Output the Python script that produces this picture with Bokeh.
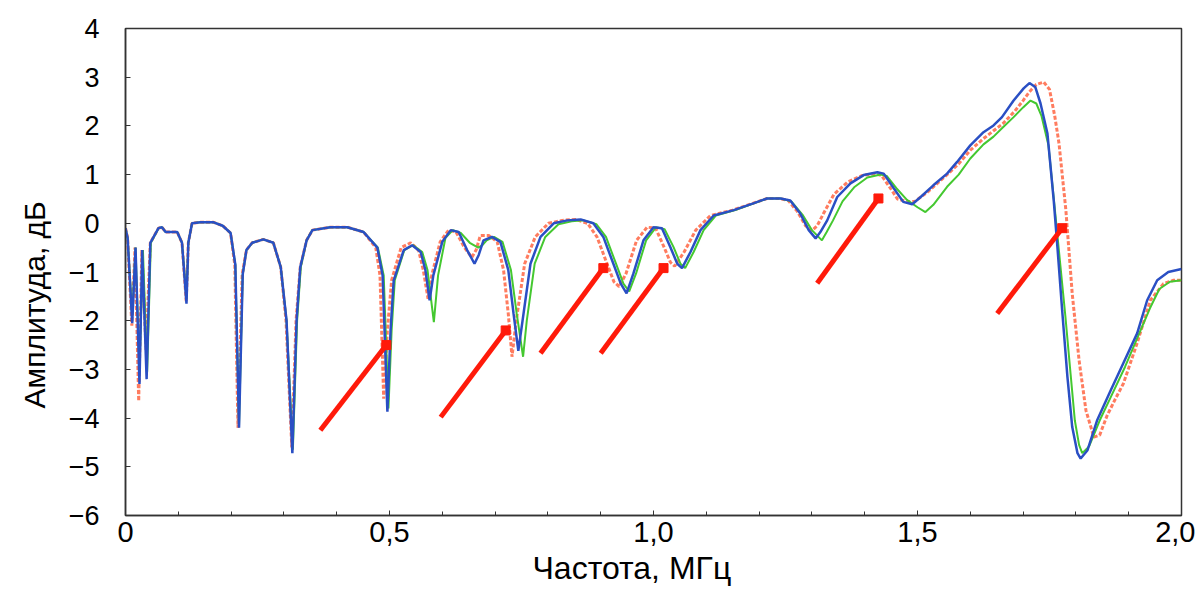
from bokeh.plotting import figure
from bokeh.models import Range1d, FixedTicker, Title
from bokeh.embed import file_html
from bokeh.resources import INLINE

# ---- data (frequency in MHz, amplitude in dB) ----
blue_f = [0.000, 0.004, 0.0127, 0.019, 0.0265, 0.0316, 0.040, 0.047, 0.0625, 0.069, 0.076, 0.098, 0.107, 0.1155, 0.119,
          0.126, 0.142, 0.167, 0.184, 0.199, 0.208, 0.215, 0.222, 0.229, 0.240, 0.261, 0.280, 0.294, 0.305, 0.316,
          0.324, 0.331, 0.343, 0.354, 0.388, 0.420, 0.451, 0.477, 0.487, 0.496, 0.502, 0.508, 0.527, 0.543, 0.559,
          0.568, 0.576, 0.583, 0.600, 0.616, 0.631, 0.647, 0.661, 0.669, 0.678, 0.694, 0.710, 0.725, 0.735, 0.744,
          0.752, 0.767, 0.786, 0.811, 0.837, 0.862, 0.886, 0.905, 0.924, 0.938, 0.949, 0.962, 0.981, 1.000, 1.016,
          1.032, 1.045, 1.054, 1.070, 1.089, 1.114, 1.152, 1.189, 1.215, 1.241, 1.259, 1.278, 1.294, 1.307, 1.316,
          1.329, 1.348, 1.373, 1.398, 1.424, 1.436, 1.455, 1.473, 1.490, 1.506, 1.530, 1.556, 1.575, 1.600, 1.625,
          1.644, 1.660, 1.682, 1.701, 1.712, 1.723, 1.733, 1.746, 1.758, 1.765, 1.774, 1.784, 1.793, 1.803, 1.809,
          1.822, 1.840, 1.866, 1.890, 1.916, 1.935, 1.954, 1.975, 2.000]
blue_a = [-0.10, -0.30, -2.05, -0.50, -3.30, -0.55, -3.20, -0.40, -0.10, -0.08, -0.18, -0.18, -0.40, -1.65, -0.40,
          0.00, 0.02, 0.02, -0.05, -0.20, -0.85, -4.20, -1.05, -0.55, -0.40, -0.33, -0.40, -0.90, -2.00, -4.72,
          -2.00, -0.90, -0.35, -0.14, -0.08, -0.08, -0.18, -0.50, -1.07, -3.87, -2.20, -1.17, -0.55, -0.45, -0.59,
          -0.96, -1.58, -1.07, -0.38, -0.14, -0.18, -0.55, -0.83, -0.65, -0.35, -0.28, -0.38, -0.96, -1.86, -2.62,
          -2.00, -0.83, -0.28, 0.00, 0.06, 0.08, 0.00, -0.28, -0.83, -1.24, -1.44, -1.03, -0.35, -0.08, -0.10,
          -0.49, -0.83, -0.92, -0.59, -0.14, 0.16, 0.27, 0.41, 0.51, 0.51, 0.47, 0.20, -0.14, -0.31, -0.18,
          0.06, 0.54, 0.82, 0.99, 1.05, 1.02, 0.72, 0.44, 0.39, 0.54, 0.78, 1.02, 1.26, 1.60, 1.87,
          2.01, 2.18, 2.52, 2.77, 2.88, 2.80, 2.46, 1.85, 0.47, -0.49, -1.79, -3.16, -4.18, -4.72, -4.83,
          -4.66, -4.05, -3.43, -2.87, -2.26, -1.58, -1.17, -1.00, -0.94]

green_f = [0.000, 0.004, 0.0127, 0.019, 0.0265, 0.033, 0.041, 0.048, 0.0625, 0.069, 0.076, 0.098, 0.107, 0.1155, 0.119,
           0.126, 0.142, 0.167, 0.184, 0.199, 0.208, 0.215, 0.222, 0.229, 0.240, 0.261, 0.280, 0.294, 0.305, 0.317,
           0.325, 0.332, 0.343, 0.354, 0.388, 0.420, 0.451, 0.478, 0.489, 0.498, 0.504, 0.510, 0.528, 0.545, 0.562,
           0.572, 0.584, 0.592, 0.606, 0.620, 0.635, 0.652, 0.668, 0.676, 0.684, 0.698, 0.714, 0.730, 0.741, 0.753,
           0.760, 0.775, 0.795, 0.820, 0.845, 0.868, 0.892, 0.910, 0.929, 0.943, 0.954, 0.967, 0.986, 1.005, 1.021,
           1.038, 1.051, 1.060, 1.076, 1.095, 1.118, 1.155, 1.190, 1.215, 1.241, 1.261, 1.282, 1.300, 1.319, 1.328,
           1.340, 1.358, 1.380, 1.405, 1.430, 1.442, 1.460, 1.480, 1.500, 1.515, 1.530, 1.556, 1.578, 1.600, 1.625,
           1.644, 1.660, 1.682, 1.700, 1.714, 1.725, 1.735, 1.748, 1.760, 1.770, 1.780, 1.790, 1.798, 1.806, 1.812,
           1.825, 1.845, 1.866, 1.893, 1.920, 1.940, 1.958, 1.978, 2.000]
green_a = [-0.10, -0.30, -1.90, -0.50, -3.00, -0.55, -3.05, -0.40, -0.10, -0.08, -0.18, -0.18, -0.40, -1.55, -0.40,
           0.00, 0.02, 0.02, -0.05, -0.20, -0.85, -4.15, -1.05, -0.55, -0.40, -0.33, -0.40, -0.90, -2.00, -4.65,
           -2.00, -0.90, -0.35, -0.14, -0.08, -0.08, -0.18, -0.50, -1.07, -3.80, -2.20, -1.17, -0.55, -0.45, -0.59,
           -0.96, -2.03, -1.07, -0.30, -0.14, -0.20, -0.40, -0.50, -0.45, -0.35, -0.28, -0.38, -0.96, -1.86, -2.74,
           -2.00, -0.83, -0.28, -0.02, 0.04, 0.06, -0.02, -0.28, -0.83, -1.24, -1.40, -1.03, -0.35, -0.08, -0.12,
           -0.49, -0.83, -0.92, -0.59, -0.14, 0.16, 0.27, 0.41, 0.51, 0.51, 0.45, 0.18, -0.14, -0.35, -0.18,
           0.06, 0.45, 0.74, 0.94, 1.00, 0.97, 0.72, 0.48, 0.33, 0.23, 0.38, 0.75, 1.00, 1.33, 1.62,
           1.78, 1.95, 2.18, 2.38, 2.52, 2.46, 2.20, 1.60, 0.30, -0.80, -1.90, -3.10, -4.05, -4.55, -4.72,
           -4.58, -4.05, -3.57, -2.95, -2.26, -1.75, -1.35, -1.20, -1.17]

red_f = [0.000, 0.004, 0.012, 0.018, 0.025, 0.031, 0.039, 0.047, 0.0625, 0.069, 0.076, 0.098, 0.107, 0.1150, 0.119,
         0.126, 0.142, 0.167, 0.184, 0.199, 0.207, 0.213, 0.221, 0.229, 0.240, 0.261, 0.280, 0.294, 0.304, 0.315,
         0.323, 0.331, 0.343, 0.354, 0.388, 0.420, 0.451, 0.474, 0.482, 0.489, 0.496, 0.504, 0.522, 0.540, 0.555,
         0.564, 0.573, 0.580, 0.596, 0.612, 0.626, 0.642, 0.656, 0.664, 0.672, 0.688, 0.704, 0.716, 0.725, 0.732,
         0.740, 0.756, 0.776, 0.801, 0.827, 0.852, 0.875, 0.893, 0.912, 0.925, 0.935, 0.948, 0.968, 0.988, 1.004,
         1.020, 1.032, 1.040, 1.058, 1.080, 1.108, 1.150, 1.188, 1.215, 1.238, 1.255, 1.272, 1.288, 1.300, 1.310,
         1.322, 1.342, 1.368, 1.395, 1.420, 1.432, 1.450, 1.462, 1.480, 1.495, 1.520, 1.556, 1.578, 1.600, 1.625,
         1.644, 1.662, 1.684, 1.700, 1.712, 1.725, 1.739, 1.750, 1.760, 1.768, 1.781, 1.793, 1.806, 1.819, 1.834,
         1.845, 1.859, 1.875, 1.890, 1.916, 1.941, 1.966, 1.985, 2.000]
red_a = [-0.10, -0.30, -2.10, -0.50, -3.65, -0.55, -2.60, -0.40, -0.10, -0.08, -0.18, -0.18, -0.40, -1.60, -0.40,
         0.00, 0.02, 0.02, -0.05, -0.20, -0.85, -4.20, -1.05, -0.55, -0.40, -0.33, -0.40, -0.90, -2.00, -4.60,
         -2.00, -0.90, -0.35, -0.14, -0.08, -0.08, -0.18, -0.50, -1.07, -3.60, -2.20, -1.17, -0.50, -0.40, -0.55,
         -0.96, -1.55, -1.07, -0.38, -0.14, -0.18, -0.50, -0.70, -0.55, -0.25, -0.25, -0.38, -0.96, -1.86, -2.74,
         -2.00, -0.83, -0.28, 0.00, 0.06, 0.08, 0.00, -0.28, -0.83, -1.20, -1.30, -1.03, -0.35, -0.08, -0.10,
         -0.49, -0.80, -0.88, -0.59, -0.14, 0.16, 0.27, 0.41, 0.51, 0.51, 0.47, 0.25, -0.05, -0.15, -0.05,
         0.20, 0.60, 0.85, 0.98, 1.02, 0.98, 0.70, 0.50, 0.45, 0.45, 0.65, 1.00, 1.22, 1.50, 1.74,
         1.90, 2.05, 2.30, 2.52, 2.70, 2.85, 2.90, 2.75, 2.20, 1.64, 0.27, -1.44, -2.81, -3.84, -4.39,
         -4.35, -3.95, -3.60, -3.29, -2.46, -1.58, -1.24, -1.17, -1.17]

# arrows (start -> end, in data coordinates)
arrow_f0 = [0.369, 0.597, 0.786, 0.900, 1.310, 1.651]
arrow_a0 = [-4.25, -3.98, -2.67, -2.67, -1.23, -1.85]
arrow_f1 = [0.494, 0.720, 0.905, 1.019, 1.426, 1.774]
arrow_a1 = [-2.50, -2.20, -0.92, -0.92, 0.51, -0.10]

x_major = [0.0, 0.5, 1.0, 1.5, 2.0]
x_minor = [0.1, 0.2, 0.3, 0.4, 0.6, 0.7, 0.8, 0.9, 1.1, 1.2, 1.3, 1.4, 1.6, 1.7, 1.8, 1.9]
x_labels = ["0", "0,5", "1,0", "1,5", "2,0"]
y_ticks = [-6, -5, -4, -3, -2, -1, 0, 1, 2, 3, 4]
y_labels = ["\u22126", "\u22125", "\u22124", "\u22123", "\u22122", "\u22121", "0", "1", "2", "3", "4"]

FONT = "Liberation Sans"

p = figure(width=1195, height=595, output_backend="svg", toolbar_location=None,
           x_range=Range1d(0, 2.0), y_range=Range1d(-6, 4),
           min_border_left=125, min_border_right=14, min_border_top=28, min_border_bottom=80)
p.background_fill_color = "white"
p.border_fill_color = "white"
p.xgrid.grid_line_color = None
p.ygrid.grid_line_color = None
p.outline_line_color = "#333333"
p.outline_line_width = 1.5

p.xaxis.ticker = FixedTicker(ticks=x_major, minor_ticks=x_minor)
p.xaxis.major_label_overrides = {t: l for t, l in zip(x_major, x_labels)}
p.yaxis.ticker = FixedTicker(ticks=y_ticks)
p.yaxis.major_label_overrides = {t: l for t, l in zip(y_ticks, y_labels)}

for ax in (p.xaxis, p.yaxis):
    ax.axis_line_color = "#333333"
    ax.axis_line_width = 1.5
    ax.major_tick_in = 5
    ax.major_tick_out = 0
    ax.minor_tick_in = 4
    ax.minor_tick_out = 0
    ax.major_tick_line_color = "#333333"
    ax.minor_tick_line_color = "#333333"
    ax.major_label_text_font = FONT
    ax.major_label_text_color = "black"
p.yaxis.minor_tick_line_color = None
p.xaxis.major_label_text_font_size = "29px"
p.yaxis.major_label_text_font_size = "27px"
p.xaxis.major_label_standoff = 6
p.yaxis.major_label_standoff = 26

p.line(red_f, red_a, line_color="#ff6e4e", line_width=3, line_dash="4 2", line_alpha=0.9)
p.line(green_f, green_a, line_color="#44c830", line_width=2)
p.line(blue_f, blue_a, line_color="#2a4fc4", line_width=2.5)

# arrows: thick red shafts ending in a small square head
p.segment(x0=arrow_f0, y0=arrow_a0, x1=arrow_f1, y1=arrow_a1, line_color="#ff1a0a", line_width=5)
p.scatter(arrow_f1, arrow_a1, marker="square", size=9, fill_color="#ff1a0a", line_color="#ff1a0a")

p.add_layout(Title(text="Амплитуда, дБ", align="left", offset=107, standoff=30,
                   text_font=FONT, text_font_size="30px", text_font_style="normal",
                   text_color="black"), "left")
p.add_layout(Title(text="Частота, МГц", align="left", offset=407, standoff=6,
                   text_font=FONT, text_font_size="32px", text_font_style="normal",
                   text_color="black"), "below")

open("out.html", "w").write(file_html(p, INLINE))
